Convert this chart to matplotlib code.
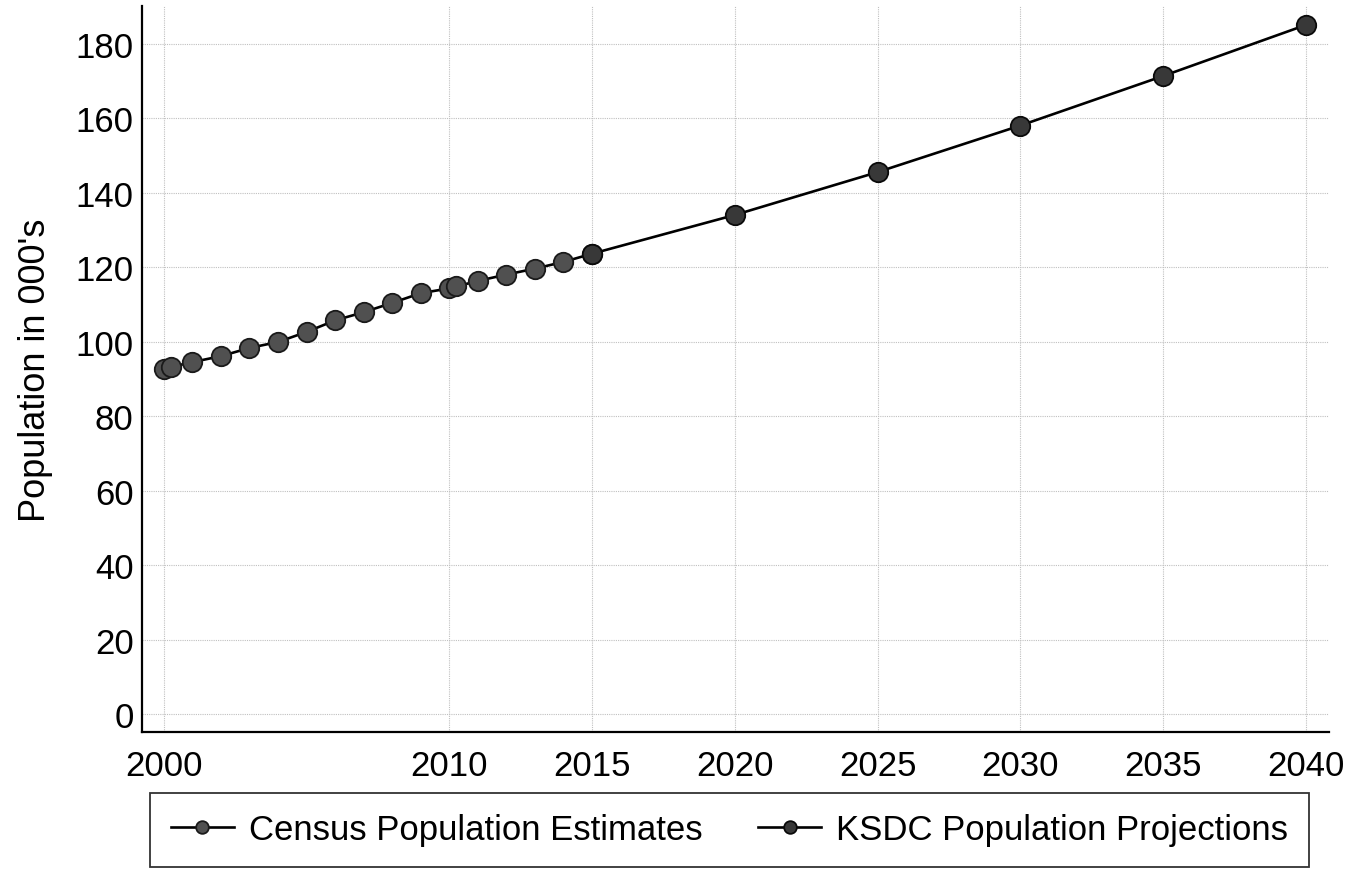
#!/usr/bin/env python3
"""Population estimates and projections, 2000-2040."""

import matplotlib
matplotlib.use("Agg")
import matplotlib.pyplot as plt

plt.rcParams["font.family"] = ["Liberation Sans", "DejaVu Sans"]

# Census estimates (2000 and 2010 have both April census and July estimate points)
census_years = [2000, 2000.25, 2001, 2002, 2003, 2004, 2005, 2006, 2007, 2008,
                2009, 2010, 2010.25, 2011, 2012, 2013, 2014, 2015]
census_pop = [92.7, 93.2, 94.5, 96.1, 98.3, 99.9, 102.6, 105.7, 107.9, 110.4,
              113.0, 114.3, 114.8, 116.3, 118.0, 119.6, 121.4, 123.6]

ksdc_years = [2015, 2020, 2025, 2030, 2035, 2040]
ksdc_pop = [123.6, 134.0, 145.5, 158.0, 171.3, 185.0]

x_ticks = [2000, 2010, 2015, 2020, 2025, 2030, 2035, 2040]
y_ticks = list(range(0, 181, 20))

fig = plt.figure(figsize=(13.64, 8.70), dpi=100)
fig.patch.set_facecolor("white")
ax = fig.add_axes([0.104, 0.1575, 0.870, 0.834])

ax.plot(census_years, census_pop, color="black", lw=1.9, marker="o", ms=14,
        mfc="#505050", mec="#1a1a1a", mew=1.3, label="Census Population Estimates", zorder=3)
ax.plot(ksdc_years, ksdc_pop, color="black", lw=1.9, marker="o", ms=14,
        mfc="#383838", mec="#0a0a0a", mew=1.3, label="KSDC Population Projections", zorder=3)

ax.set_xlim(1999.23, 2040.8)
ax.set_ylim(-4.8, 190)
ax.set_xticks(x_ticks)
ax.set_yticks(y_ticks)
ax.tick_params(length=0, labelsize=25)
ax.tick_params(axis="x", pad=12)
ax.tick_params(axis="y", pad=6)
ax.grid(True, color="#c0c0c0", lw=0.8, ls=(0, (1, 1)))
ax.set_axisbelow(True)

for side in ("top", "right"):
    ax.spines[side].set_visible(False)
for side in ("left", "bottom"):
    ax.spines[side].set_linewidth(1.6)
    ax.spines[side].set_color("black")

ax.set_ylabel("Population in 000's", fontsize=26, labelpad=16)

leg = ax.legend(loc="lower center", bbox_to_anchor=(0.535, 0.002),
                bbox_transform=fig.transFigure, ncol=2,
                fontsize=25, frameon=True, fancybox=False, edgecolor="black",
                handlelength=1.8, handletextpad=0.45, columnspacing=1.6,
                markerscale=0.65, borderpad=0.6, borderaxespad=0)
leg.get_frame().set_linewidth(1.3)

fig.savefig("out.png", dpi=100, facecolor="white")
